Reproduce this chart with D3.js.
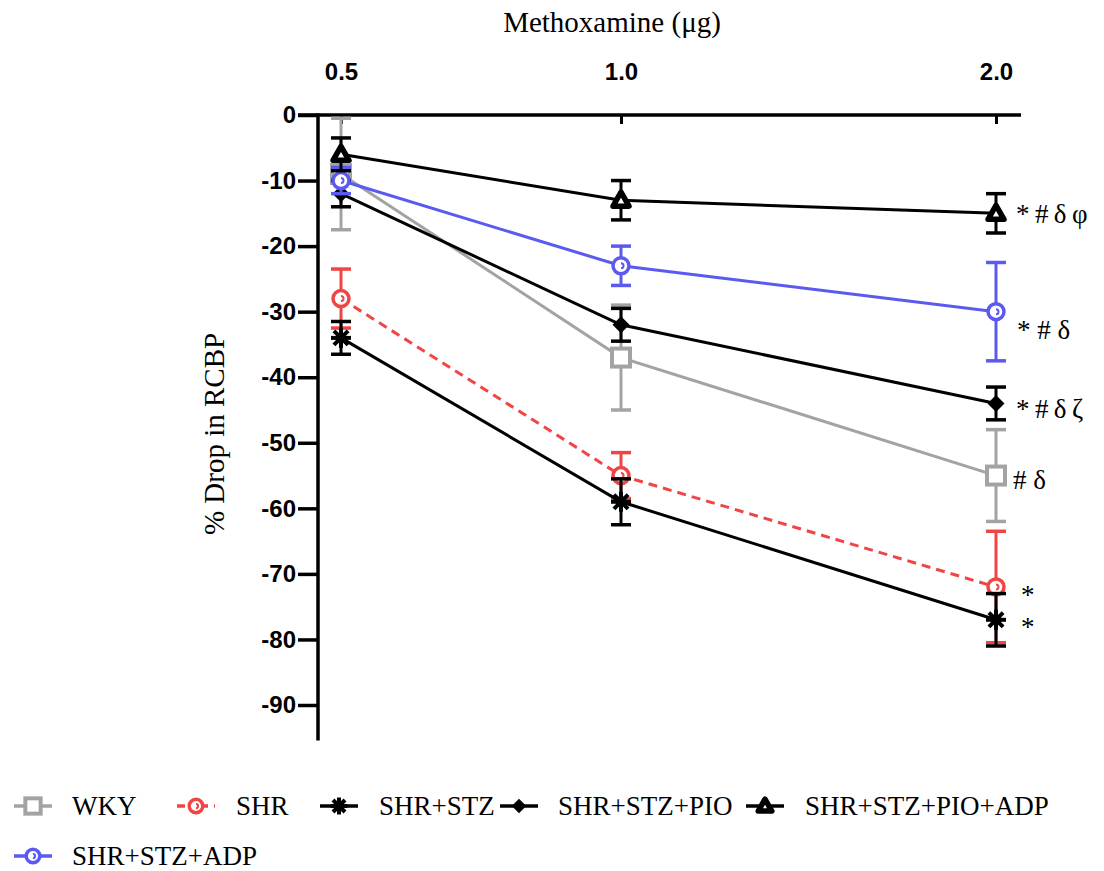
<!DOCTYPE html>
<html><head><meta charset="utf-8">
<script src="https://cdn.jsdelivr.net/npm/d3@7"></script>
<style>body{margin:0;background:#fff}svg{display:block}</style>
</head><body>
<script>
const doses = [0.5, 1.0, 2.0];
const doseLabels = ["0.5", "1.0", "2.0"];
const yTicks = [0, -10, -20, -30, -40, -50, -60, -70, -80, -90];
const seriesNames = ["WKY", "SHR", "SHR+STZ", "SHR+STZ+PIO", "SHR+STZ+PIO+ADP", "SHR+STZ+ADP"];
const wkyMean = [-9, -37, -55];
const wkyErr = [8.5, 8, 7];
const shrMean = [-28, -55, -72];
const shrErr = [4.5, 3.5, 8.5];
const stzMean = [-34, -59, -77];
const stzErr = [2.5, 3.5, 4];
const pioMean = [-12, -32, -44];
const pioErr = [2, 2.5, 2.5];
const pioAdpMean = [-6, -13, -15];
const pioAdpErr = [2.5, 3, 3];
const adpMean = [-10, -23, -30];
const adpErr = [2, 3, 7.5];
const annotations = ["# δ", "*", "*", "*\u2009#\u2009δ\u2009ζ", "*\u2009#\u2009δ\u2009φ", "* # δ"];

const W = 1104, H = 871;
const svg = d3.select("body").append("svg").attr("width", W).attr("height", H);
const serif = "Liberation Serif, Times New Roman, serif";
const sans = "Liberation Sans, Arial, sans-serif";

const x = d3.scaleLinear().domain(doses).range([341, 621, 996]);
const y = d3.scaleLinear().domain([0, -90]).range([115, 705]);
const yBottom = -95.4;

const series = [
  {name: seriesNames[0], mean: wkyMean, err: wkyErr, color: "#a3a3a3", marker: "square", dash: null, ann: annotations[0], annDx: 17, annDy: 13},
  {name: seriesNames[3], mean: pioMean, err: pioErr, color: "#000", marker: "diamond", dash: null, ann: annotations[3], annDx: 20, annDy: 15},
  {name: seriesNames[5], mean: adpMean, err: adpErr, color: "#5a5af0", marker: "circle", dash: null, ann: annotations[5], annDx: 21, annDy: 27},
  {name: seriesNames[4], mean: pioAdpMean, err: pioAdpErr, color: "#000", marker: "triangle", dash: null, ann: annotations[4], annDx: 20, annDy: 10},
  {name: seriesNames[1], mean: shrMean, err: shrErr, color: "#f04545", marker: "circle", dash: "9,6", ann: annotations[1], annDx: 25, annDy: 17},
  {name: seriesNames[2], mean: stzMean, err: stzErr, color: "#000", marker: "star", dash: null, ann: annotations[2], annDx: 25, annDy: 16},
];

// axes
const yAxis = d3.axisLeft(y).tickValues(yTicks).tickSize(20).tickPadding(2).tickFormat(d => String(d));
const gy = svg.append("g").attr("transform", "translate(318,0)").call(yAxis);
gy.select(".domain").remove();
gy.append("line").attr("x1", 0).attr("x2", 0).attr("y1", y(0) - 1.5).attr("y2", y(yBottom)).attr("stroke", "#000").attr("stroke-width", 3.5);
gy.selectAll(".tick line").attr("stroke", "#000").attr("stroke-width", 3.5);
gy.selectAll(".tick text").attr("font-family", sans).attr("font-weight", "bold").attr("font-size", 24).attr("fill", "#000");

const xAxis = d3.axisTop(x).tickValues(doses).tickSize(-9).tickPadding(35).tickFormat((d, i) => doseLabels[i]);
const gx = svg.append("g").attr("transform", `translate(0,${y(0)})`).call(xAxis);
gx.select(".domain").remove();
gx.append("line").attr("x1", 298).attr("x2", 1021).attr("y1", 0).attr("y2", 0).attr("stroke", "#000").attr("stroke-width", 3.5);
gx.selectAll(".tick line").attr("stroke", "#000").attr("stroke-width", 3);
gx.selectAll(".tick text").attr("font-family", sans).attr("font-weight", "bold").attr("font-size", 24).attr("fill", "#000");

svg.append("text").attr("x", 612).attr("y", 32).attr("text-anchor", "middle")
  .attr("font-family", serif).attr("font-size", 29).text("Methoxamine (μg)");
svg.append("text").attr("transform", "translate(224,434) rotate(-90)").attr("text-anchor", "middle")
  .attr("font-family", serif).attr("font-size", 29).text("% Drop in RCBP");

function drawMarker(g, type, color, cx, cy, s) {
  s = s || 1;
  if (type === "square") {
    g.append("rect").attr("x", cx - 9 * s).attr("y", cy - 9 * s).attr("width", 18 * s).attr("height", 18 * s)
      .attr("fill", "#fff").attr("stroke", color).attr("stroke-width", 4);
  } else if (type === "circle") {
    g.append("circle").attr("cx", cx).attr("cy", cy).attr("r", 8 * s).attr("fill", "#fff").attr("stroke", color).attr("stroke-width", 3.5);
    g.append("path").attr("d", `M${cx},${cy - 2.5 * s} A${2.5 * s},${2.5 * s} 0 1 1 ${cx},${cy + 2.5 * s}`).attr("fill", "none").attr("stroke", color).attr("stroke-width", 2);
  } else if (type === "diamond") {
    const r = 8.5 * s;
    g.append("path").attr("d", `M${cx},${cy - r}L${cx + r},${cy}L${cx},${cy + r}L${cx - r},${cy}Z`).attr("fill", color);
  } else if (type === "triangle") {
    const r = 8 * s;
    g.append("path").attr("d", `M${cx},${cy - r}L${cx + r},${cy + r * 0.75}L${cx - r},${cy + r * 0.75}Z`)
      .attr("fill", "#fff").attr("stroke", color).attr("stroke-width", 5.5).attr("stroke-linejoin", "round");
  } else if (type === "star") {
    const r = 10 * s;
    for (let k = 0; k < 4; k++) {
      const a = k * Math.PI / 4;
      g.append("line").attr("x1", cx - r * Math.cos(a)).attr("y1", cy - r * Math.sin(a))
        .attr("x2", cx + r * Math.cos(a)).attr("y2", cy + r * Math.sin(a)).attr("stroke", color).attr("stroke-width", 4);
    }
    g.append("circle").attr("cx", cx).attr("cy", cy).attr("r", 5.5 * s).attr("fill", color);
  }
}

const line = d3.line().x((d, i) => x(doses[i])).y(d => y(d));
const plot = svg.append("g");
series.forEach(s => {
  const g = plot.append("g");
  g.append("path").datum(s.mean).attr("d", line).attr("fill", "none").attr("stroke", s.color).attr("stroke-width", 3)
    .attr("stroke-dasharray", s.dash);
  s.mean.forEach((m, i) => {
    const cx = x(doses[i]);
    const y1 = y(m + s.err[i]), y2 = y(m - s.err[i]);
    g.append("line").attr("x1", cx).attr("x2", cx).attr("y1", y1).attr("y2", y2).attr("stroke", s.color).attr("stroke-width", 3);
    [y1, y2].forEach(yy => g.append("line").attr("x1", cx - 10).attr("x2", cx + 10).attr("y1", yy).attr("y2", yy)
      .attr("stroke", s.color).attr("stroke-width", 3.5));
    drawMarker(g, s.marker, s.color, cx, y(m));
  });
  g.append("text").attr("x", x(doses[2]) + s.annDx).attr("y", y(s.mean[2]) + s.annDy)
    .attr("font-family", serif).attr("font-size", 27).text(s.ann);
});

// legend
const legendItems = [
  {name: seriesNames[0], color: "#a3a3a3", marker: "square", dash: null, lx: 14, tx: 72, y: 806},
  {name: seriesNames[1], color: "#f04545", marker: "circle", dash: "8,6,3,6", lx: 177, tx: 236, y: 806},
  {name: seriesNames[2], color: "#000", marker: "star", dash: null, lx: 320, tx: 379, y: 806},
  {name: seriesNames[3], color: "#000", marker: "diamond", dash: null, lx: 500, tx: 558, y: 806},
  {name: seriesNames[4], color: "#000", marker: "triangle", dash: null, lx: 746, tx: 805, y: 806},
  {name: seriesNames[5], color: "#5a5af0", marker: "circle", dash: null, lx: 14, tx: 72, y: 856},
];
const lg = svg.append("g");
legendItems.forEach(it => {
  lg.append("line").attr("x1", it.lx).attr("x2", it.lx + 38).attr("y1", it.y).attr("y2", it.y)
    .attr("stroke", it.color).attr("stroke-width", 3.5).attr("stroke-dasharray", it.dash);
  drawMarker(lg, it.marker, it.color, it.lx + 19, it.y, 0.85);
  lg.append("text").attr("x", it.tx).attr("y", it.y + 9).attr("font-family", serif)
    .attr("font-size", 27).text(it.name);
});
</script>
</body></html>
